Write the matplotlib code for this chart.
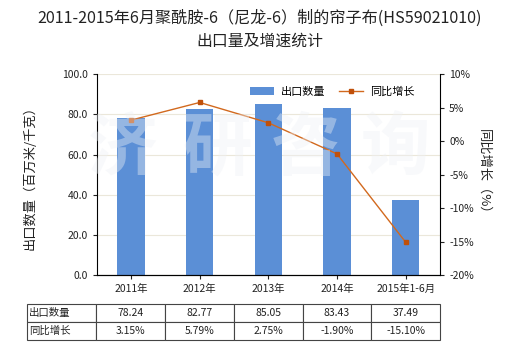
import matplotlib
matplotlib.use("Agg")
import matplotlib.pyplot as plt
from matplotlib.ticker import FuncFormatter

plt.rcParams['font.family'] = ['Noto Sans CJK SC', 'DejaVu Sans']

categories = ["2011年", "2012年", "2013年", "2014年", "2015年1-6月"]
export_qty = [78.24, 82.77, 85.05, 83.43, 37.49]
yoy_growth = [3.15, 5.79, 2.75, -1.90, -15.10]
row_labels = ["出口数量", "同比增长"]

bar_color = "#5b8fd6"
line_color = "#d2691e"
marker_color = "#c0500a"
text_color = "#222222"

fig = plt.figure(figsize=(5.2, 3.5), dpi=100)
ax = fig.add_axes([96.7 / 520, 1 - 275 / 350, 343.3 / 520, 200.7 / 350])
ax2 = ax.twinx()

x = list(range(len(categories)))
ax.bar(x, export_qty, width=0.4, color=bar_color, zorder=2, label="出口数量")
ax2.plot(x, yoy_growth, color=line_color, lw=1.0, marker="s", ms=3.5,
         mfc=marker_color, mec=marker_color, zorder=3, label="同比增长")

ax.set_xlim(-0.5, len(categories) - 0.5)
ax.set_ylim(0, 100)
ax.set_yticks([0, 20, 40, 60, 80, 100])
ax.yaxis.set_major_formatter(FuncFormatter(lambda v, p: f"{v:.1f}"))
ax2.set_ylim(-20, 10)
ax2.set_yticks([-20, -15, -10, -5, 0, 5, 10])
ax2.yaxis.set_major_formatter(FuncFormatter(lambda v, p: f"{v:.0f}%"))

ax.grid(axis="y", color="#ebe7da", lw=0.8, zorder=0)
ax.set_axisbelow(True)

for a in (ax, ax2):
    a.spines["top"].set_visible(False)
    a.tick_params(labelsize=7.5, colors=text_color, length=3, width=0.8)
ax.spines["right"].set_visible(False)
ax2.spines["left"].set_visible(False)
ax.set_xticks(x)
ax.set_xticklabels(categories, fontsize=7.5)

ax.set_ylabel("出口数量（百万米/千克）", fontsize=9.5, color=text_color, labelpad=18)
ax2.set_ylabel("同比增长（%）", fontsize=9.5, color=text_color, rotation=270, labelpad=12)

fig.text(0.5, 1 - 18 / 350, "2011-2015年6月聚酰胺-6（尼龙-6）制的帘子布(HS59021010)",
         ha="center", va="center", fontsize=11.6, color=text_color)
fig.text(0.5, 1 - 41 / 350, "出口量及增速统计", ha="center", va="center",
         fontsize=11.4, color=text_color)

# faint bold watermark laid over the bars
for ch, cx in zip("济研咨询", [122, 217, 305, 395]):
    fig.text(cx / 520, 1 - 150 / 350, ch, ha="center", va="center",
             fontsize=50, fontweight="bold", color="#eef1f6", alpha=0.4,
             zorder=2.5)

h1, l1 = ax.get_legend_handles_labels()
h2, l2 = ax2.get_legend_handles_labels()
ax.legend(h1 + h2, l1 + l2, loc="upper right", bbox_to_anchor=(0.955, 0.99),
          ncol=2, frameon=False, fontsize=8, handlelength=2.2,
          columnspacing=1.2, handletextpad=0.6)

cell_text = [[f"{v:.2f}" for v in export_qty],
             [f"{v:.2f}%" for v in yoy_growth]]
table_rows = [[row_labels[i]] + cell_text[i] for i in range(2)]
tbl = ax.table(cellText=table_rows, cellLoc="center",
               bbox=[-0.203, -0.324, 1.203, 0.18],
               colWidths=[69.3] + [68.66] * 5)
tbl.auto_set_font_size(False)
tbl.set_fontsize(7.5)
for (r, c), cell in tbl.get_celld().items():
    cell.set_edgecolor("#444444")
    cell.set_linewidth(0.8)
    cell.get_text().set_color(text_color)
    if c == 0:
        cell.get_text().set_ha("left")
        cell.PAD = 0.03

fig.savefig("out.png", dpi=100)
